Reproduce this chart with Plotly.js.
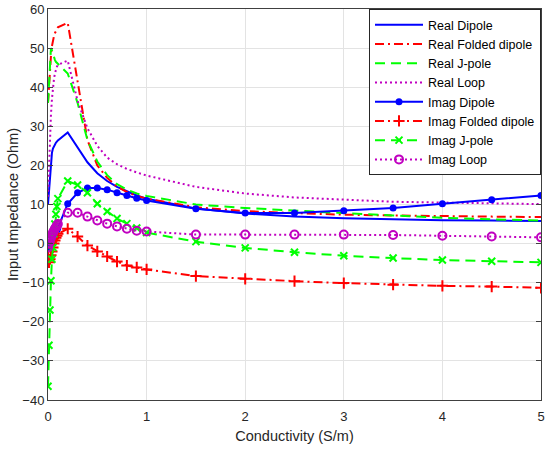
<!DOCTYPE html>
<html>
<head>
<meta charset="utf-8">
<script src="https://cdn.plot.ly/plotly-3.0.1.min.js"></script>
<style>html,body{margin:0;padding:0;background:#fff;}#chart{width:549px;height:449px;}</style>
</head>
<body>
<div id="chart"></div>
<script>
// Conductivity (S/m)
const conductivity = [0, 0.01, 0.02, 0.03, 0.04, 0.05, 0.06, 0.07, 0.08, 0.09, 0.1,
  0.2, 0.3, 0.4, 0.5, 0.6, 0.7, 0.8, 0.9, 1.0, 1.5, 2, 2.5, 3, 3.5, 4, 4.5, 5];

const realDipole = [10, 14, 18, 21, 23.2, 24.3, 24.9, 25.4, 25.8, 26.1, 26.4,
  28.4, 24.5, 20.8, 18, 16, 14.5, 13.3, 12.3, 11.5, 9, 7.7, 6.9, 6.5, 6.2, 6.0, 5.9, 5.8];
const realFolded = [36, 41, 45, 48, 50.5, 52, 53, 53.8, 54.4, 54.9, 55.3,
  56.5, 41, 26.5, 20, 16.8, 14.6, 13.2, 12.2, 11.5, 9.3, 8.3, 7.8, 7.4, 7.2, 7.0, 6.9, 6.8];
const realJpole = [36, 42, 47, 50, 49.5, 48.5, 47.5, 47, 46.5, 46.2, 46,
  43.5, 36, 26.5, 21, 17.5, 15.2, 13.8, 12.8, 12.2, 10, 9.1, 8.4, 7.8, 7.2, 6.6, 6.2, 5.9];
const realLoop = [12, 20, 27, 33, 37, 40, 42, 43.5, 44.5, 45.2, 45.7,
  46.8, 36.5, 29.5, 25, 22, 20.3, 19.1, 18.2, 17.4, 14.5, 12.8, 11.8, 11.2, 10.7, 10.5, 10.3, 10.1];

const imagDipole = [-1, -0.5, 0, 0.5, 1, 1.5, 2, 2.5, 3, 3.5, 4,
  10.2, 13, 14.2, 14.2, 13.8, 13, 12.3, 11.6, 11, 8.9, 7.8, 7.8, 8.4, 9.1, 10.2, 11.2, 12.3];
const imagFolded = [-3.5, -4.8, -4, -3, -2, -1, 0, 0.8, 1.5, 2, 2.5,
  3.8, 1.8, -0.5, -2, -3.3, -4.6, -5.6, -6.1, -6.6, -8.3, -9.0, -9.6, -10.1, -10.5, -10.8, -11.0, -11.3];
const imagJpole = [-36.5, -26, -17, -9.5, -4, -1, 2.5, 5, 7.5, 9.5, 11.5,
  16, 15, 13, 10.2, 8.2, 6.4, 5.1, 4, 2.8, 0.5, -1.1, -2.2, -3.1, -3.7, -4.2, -4.5, -4.8];
const imagLoop = [-1, 0, 0.8, 1.5, 2.2, 2.8, 3.3, 3.8, 4.2, 4.6, 5,
  7.9, 7.9, 6.9, 5.9, 5.1, 4.4, 3.8, 3.3, 3.1, 2.3, 2.3, 2.3, 2.3, 2.2, 2.0, 1.8, 1.6];

const seriesNames = ['Real Dipole', 'Real Folded dipole', 'Real J-pole', 'Real Loop',
  'Imag Dipole', 'Imag Folded dipole', 'Imag J-pole', 'Imag Loop'];

const BLUE = '#0000ff', RED = '#ff0000', GREEN = '#00ff00', MAG = '#c000c0';
const DASHED = '10px,6px', DASHDOT = '9px,4px,2px,4px', DOTTED = '2px,3px';
const FONT = 'Liberation Sans, Arial, sans-serif';

function lineTrace(name, y, color, dash) {
  return {x: conductivity, y: y, name: name, type: 'scatter', mode: 'lines',
    line: {color: color, width: 2, dash: dash}};
}
function markTrace(name, y, color, dash, marker) {
  return {x: conductivity, y: y, name: name, type: 'scatter', mode: 'lines+markers',
    line: {color: color, width: 2, dash: dash}, marker: marker};
}

const traces = [
  lineTrace(seriesNames[0], realDipole, BLUE, 'solid'),
  lineTrace(seriesNames[1], realFolded, RED, DASHDOT),
  lineTrace(seriesNames[2], realJpole, GREEN, DASHED),
  lineTrace(seriesNames[3], realLoop, MAG, DOTTED),
  markTrace(seriesNames[4], imagDipole, BLUE, 'solid',
    {symbol: 'circle', size: 7, color: BLUE, line: {width: 0}}),
  markTrace(seriesNames[5], imagFolded, RED, DASHDOT,
    {symbol: 'cross-thin-open', size: 8, color: RED, line: {color: RED, width: 2}}),
  markTrace(seriesNames[6], imagJpole, GREEN, DASHED,
    {symbol: 'x-thin-open', size: 7, color: GREEN, line: {color: GREEN, width: 2}}),
  markTrace(seriesNames[7], imagLoop, MAG, DOTTED,
    {symbol: 'circle-open', size: 8, color: MAG, line: {color: MAG, width: 2}})
];

const axisCommon = {
  showline: true, linecolor: '#404040', linewidth: 1, mirror: 'ticks',
  ticks: 'inside', ticklen: 5, tickcolor: '#404040',
  showgrid: true, gridcolor: '#e3e3e3', gridwidth: 1, zeroline: false,
  tickfont: {family: FONT, size: 13, color: '#262626'},
  automargin: false
};

const layout = {
  width: 549, height: 449,
  margin: {l: 48, r: 8, t: 9, b: 49},
  paper_bgcolor: '#ffffff', plot_bgcolor: '#ffffff',
  showlegend: true,
  xaxis: Object.assign({}, axisCommon, {
    range: [0, 5], dtick: 1, tick0: 0,
    ticks: 'outside', ticklen: 4, tickcolor: 'rgba(255,255,255,0)', mirror: true,
    title: {text: 'Conductivity (S/m)', standoff: 8,
      font: {family: FONT, size: 14.5, color: '#262626'}}
  }),
  yaxis: Object.assign({}, axisCommon, {
    range: [-40, 60], dtick: 10, tick0: 0,
    title: {text: 'Input Impedance (Ohm)', standoff: 0,
      font: {family: FONT, size: 14.5, color: '#262626'}}
  }),
  legend: {
    x: 1, xanchor: 'right', y: 1, yanchor: 'top',
    bgcolor: '#ffffff', bordercolor: '#262626', borderwidth: 1,
    font: {family: FONT, size: 12.5, color: '#000000'},
    itemwidth: 48, tracegroupgap: 0
  }
};

Plotly.newPlot('chart', traces, layout, {displayModeBar: false, staticPlot: true});
</script>
</body>
</html>
